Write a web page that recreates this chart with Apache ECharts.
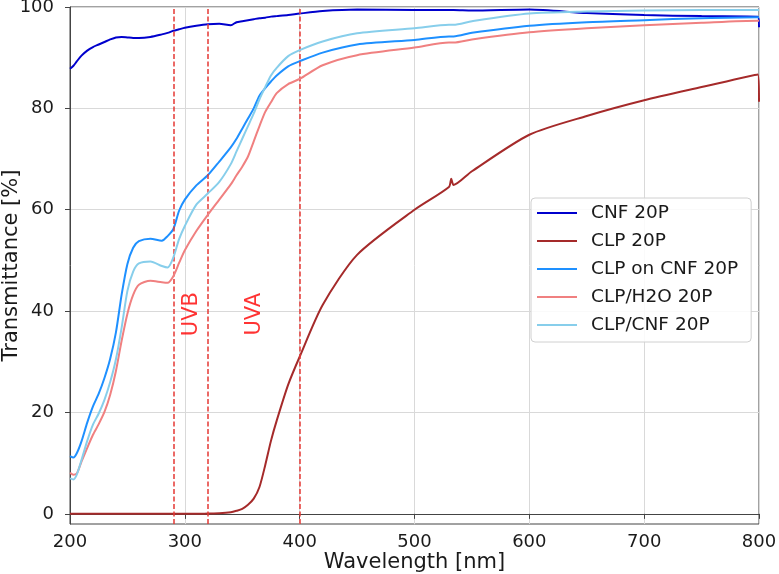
<!DOCTYPE html>
<html>
<head>
<meta charset="utf-8">
<script src="https://cdn.jsdelivr.net/npm/echarts@6/dist/echarts.min.js"></script>
<style>
  html, body { margin: 0; padding: 0; background: #fff; }
  #chart { width: 779px; height: 574px; }
</style>
</head>
<body>
<div id="chart"></div>
<script>
// wavelength grid (nm) shared by all curves
var wavelength = [200, 203, 206, 210, 215, 220, 225, 230, 235, 240, 245, 250, 255, 260, 270, 280, 285, 290, 295, 300,
    310, 320, 330, 340, 345, 350, 355, 360, 365, 370, 375, 380, 390, 400, 420, 450, 500, 530, 532, 534,
    550, 600, 650, 700, 750, 799, 800];

// transmittance [%]
var cnf20p = [87.8, 88.4, 89.3, 90.4, 91.4, 92.1, 92.6, 93.1, 93.6, 94.0, 94.1, 94.0, 93.9, 93.9, 94.1, 94.6, 94.9, 95.3, 95.6, 95.9,
    96.3, 96.6, 96.7, 96.4, 97.0, 97.2, 97.4, 97.6, 97.8, 97.9, 98.1, 98.2, 98.4, 98.7, 99.2, 99.5, 99.4, 99.4, 99.4, 99.4,
    99.3, 99.5, 98.8, 98.4, 98.2, 98.1, 96.0];
var clp20p = [0, 0, 0, 0, 0, 0, 0, 0, 0, 0, 0, 0, 0, 0, 0, 0, 0, 0, 0, 0,
    0, 0.05, 0.1, 0.3, 0.6, 1.0, 1.8, 3.0, 5.3, 9.6, 14.4, 18.4, 25.5, 31.0, 41.2, 51.1, 60.0, 64.5, 66.1, 64.9,
    67.6, 74.8, 78.5, 81.6, 84.2, 86.7, 81.3];
var clpOnCnf20p = [11.4, 11.1, 12.0, 14.3, 18.0, 21.2, 23.7, 26.8, 30.6, 35.8, 43.3, 49.3, 52.5, 53.8, 54.3, 53.9, 54.8, 56.2, 59.8, 62.0,
    64.8, 66.8, 69.5, 72.3, 74.0, 76.0, 78.0, 80.0, 82.5, 84.0, 85.3, 86.5, 88.3, 89.3, 91.0, 92.6, 93.5, 94.2, 94.2, 94.2,
    94.9, 96.3, 97.0, 97.4, 97.8, 98.0, 98.0];
var clpH2o20p = [8.1, 7.7, 8.0, 10.3, 13.0, 15.6, 17.7, 20.1, 23.5, 28.2, 34.2, 39.5, 43.2, 45.2, 46.0, 45.7, 45.6, 46.9, 49.5, 52.0,
    55.8, 59.0, 62.0, 65.0, 66.8, 68.5, 70.5, 73.5, 76.5, 79.3, 81.2, 83.0, 84.8, 85.8, 88.5, 90.5, 92.0, 93.0, 93.0, 93.0,
    93.6, 95.0, 95.8, 96.4, 96.9, 97.3, 97.3];
var clpCnf20p = [7.0, 6.8, 7.8, 10.6, 14.4, 17.6, 19.8, 22.5, 26.0, 30.5, 36.8, 44.0, 47.8, 49.4, 49.8, 48.9, 48.6, 50.6, 54.2, 56.8,
    61.0, 63.2, 65.5, 69.0, 71.5, 74.0, 76.5, 79.0, 81.8, 84.2, 86.5, 88.0, 90.3, 91.5, 93.2, 94.8, 95.8, 96.5, 96.5, 96.5,
    97.2, 98.7, 99.1, 99.3, 99.4, 99.4, 99.4];

var seriesNames = ['CNF 20P', 'CLP 20P', 'CLP on CNF 20P', 'CLP/H2O 20P', 'CLP/CNF 20P'];
var seriesColors = ['#0000cd', '#a52a2a', '#1e90ff', '#f08080', '#87ceeb'];
var seriesValues = [cnf20p, clp20p, clpOnCnf20p, clpH2o20p, clpCnf20p];

// UV band limits and labels
var bandEdges = [290, 320, 400];
var bandLabels = [['UVB', 306, 39.4], ['UVA', 361, 39.4]];

var xTicks = [200, 300, 400, 500, 600, 700, 800];
var yTicks = [0, 20, 40, 60, 80, 100];

var font = 'DejaVu Sans';
var chart = echarts.init(document.getElementById('chart'));

var series = seriesNames.map(function(name, k) {
    return {
        name: name,
        type: 'line',
        data: wavelength.map(function(x, i) { return [x, seriesValues[k][i]]; }),
        symbol: 'none',
        smooth: 0.25,
        lineStyle: { color: seriesColors[k], width: 2 },
        itemStyle: { color: seriesColors[k] },
        z: 2 + k
    };
});

series.push({
    name: 'bands',
    type: 'line',
    data: [],
    z: 10,
    markLine: {
        silent: true,
        symbol: 'none',
        label: { show: false },
        lineStyle: { color: '#e53935', width: 1.5, type: [5, 2.5] },
        data: bandEdges.map(function(x) { return { xAxis: x }; })
    }
});

series.push({
    name: 'bandLabels',
    type: 'scatter',
    symbolSize: 0,
    z: 11,
    data: bandLabels.map(function(b) { return { value: [b[1], b[2]], name: b[0] }; }),
    label: {
        show: true,
        position: 'inside',
        rotate: 90,
        formatter: '{b}',
        color: '#ff0000',
        fontFamily: font,
        fontSize: 21
    }
});

var option = {
    animation: false,
    backgroundColor: '#fff',
    textStyle: { fontFamily: font },
    grid: {
        left: 70, right: 20, top: 7, bottom: 50,
        containLabel: false,
        outerBoundsMode: 'none',
        show: true, borderColor: '#444', borderWidth: 1
    },
    legend: {
        data: seriesNames,
        orient: 'vertical',
        left: 531,
        top: 198,
        padding: [5, 13, 7, 6],
        icon: 'rect',
        itemWidth: 40,
        itemHeight: 2,
        itemGap: 8,
        backgroundColor: 'rgba(255,255,255,0.85)',
        borderColor: '#d0d0d0',
        borderWidth: 1,
        borderRadius: 4,
        textStyle: { fontFamily: font, fontSize: 18.5, lineHeight: 20, color: '#1a1a1a', padding: [0, 0, 0, 9] }
    },
    xAxis: {
        type: 'value',
        min: 200,
        max: 800,
        interval: 100,
        name: 'Wavelength [nm]',
        nameLocation: 'middle',
        nameGap: 28,
        nameMoveOverlap: false,
        nameTextStyle: { fontFamily: font, fontSize: 21, color: '#1a1a1a' },
        axisLine: { lineStyle: { color: '#444', width: 1 } },
        axisTick: { show: true, length: 5, lineStyle: { color: '#444' } },
        axisLabel: {
            fontFamily: font, fontSize: 18, color: '#1a1a1a', margin: 9,
            customValues: xTicks
        },
        splitLine: { show: true, lineStyle: { color: '#d9d9d9', width: 1 } }
    },
    yAxis: {
        type: 'value',
        min: -2,
        max: 100,
        name: 'Transmittance [%]',
        nameLocation: 'middle',
        nameGap: 48,
        nameMoveOverlap: false,
        nameTextStyle: { fontFamily: font, fontSize: 21, color: '#1a1a1a' },
        axisLine: { show: true, lineStyle: { color: '#444', width: 1 } },
        axisTick: { show: true, length: 5, lineStyle: { color: '#444' }, customValues: yTicks },
        axisLabel: {
            fontFamily: font, fontSize: 18, color: '#1a1a1a', margin: 16,
            customValues: yTicks
        },
        splitLine: { show: true, lineStyle: { color: '#d9d9d9', width: 1 } }
    },
    series: series
};

chart.setOption(option);
</script>
</body>
</html>
